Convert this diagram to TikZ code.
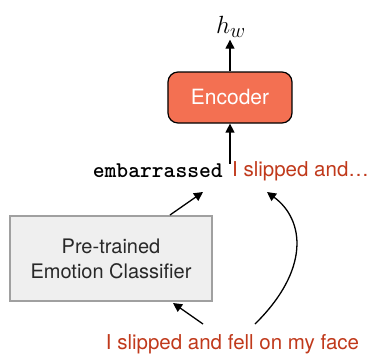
\documentclass[tikz,border=0pt]{standalone}
\usepackage{fontspec}
\setsansfont{TeX Gyre Heros}
\newfontfamily\monob{lmmonolt10-bold}[Extension=.otf]
\usetikzlibrary{arrows.meta}
\definecolor{encfill}{RGB}{243,112,82}
\definecolor{redtxt}{RGB}{192,57,27}
\definecolor{clsfill}{RGB}{239,239,239}
\definecolor{clsdraw}{RGB}{160,160,160}
\definecolor{clstxt}{RGB}{40,40,40}
\begin{document}
\begin{tikzpicture}[x=1pt,y=-1pt,
  arr/.style={line width=1.3pt,-{Triangle[length=9pt,width=9pt]}},
  redlabel/.style={font=\sffamily\fontsize{20.5}{24}\selectfont,text=redtxt,inner sep=0pt}]
\useasboundingbox (0,0) rectangle (368,354);
\node[inner sep=0pt] (hw) at (231,27) {\fontsize{31}{34}\selectfont$h_w$};
\node[draw=black,line width=1.2pt,fill=encfill,rounded corners=10pt,minimum width=124pt,minimum height=51pt,text=white,font=\sffamily\fontsize{21}{24}\selectfont] (enc) at (230,97.5) {Encoder};
\node[inner sep=0pt,font=\monob\fontsize{22.5}{24}\selectfont,anchor=east] (emb) at (223,171) {embarrassed};
\node[redlabel,anchor=west] (slip) at (232,171) {I slipped and\ldots};
\node[draw=clsdraw,line width=1.5pt,fill=clsfill,minimum width=202pt,minimum height=85pt,text=clstxt,font=\sffamily\fontsize{20}{25}\selectfont,align=center] (cls) at (111,258.5) {Pre-trained\\Emotion Classifier};
\node[redlabel] (inp) at (232.5,344) {I slipped and fell on my face};
\coordinate (t1) at (203,192);
\coordinate (t2) at (267,192);
\coordinate (s1) at (203,324);
\coordinate (s2) at (255,324);
\coordinate (b1) at (170,215);
\coordinate (b2) at (173,303);
\draw[arr] (enc.north) -- ([yshift=-2pt]enc.north |- hw.south);
\draw[arr] (enc.south |- emb.north) -- (enc.south);
\draw[arr] (b1) -- (t1);
\draw[arr] (s1) -- (b2);
\draw[arr] (s2) .. controls (310,270) and (305,220) .. (t2);
\end{tikzpicture}
\end{document}
